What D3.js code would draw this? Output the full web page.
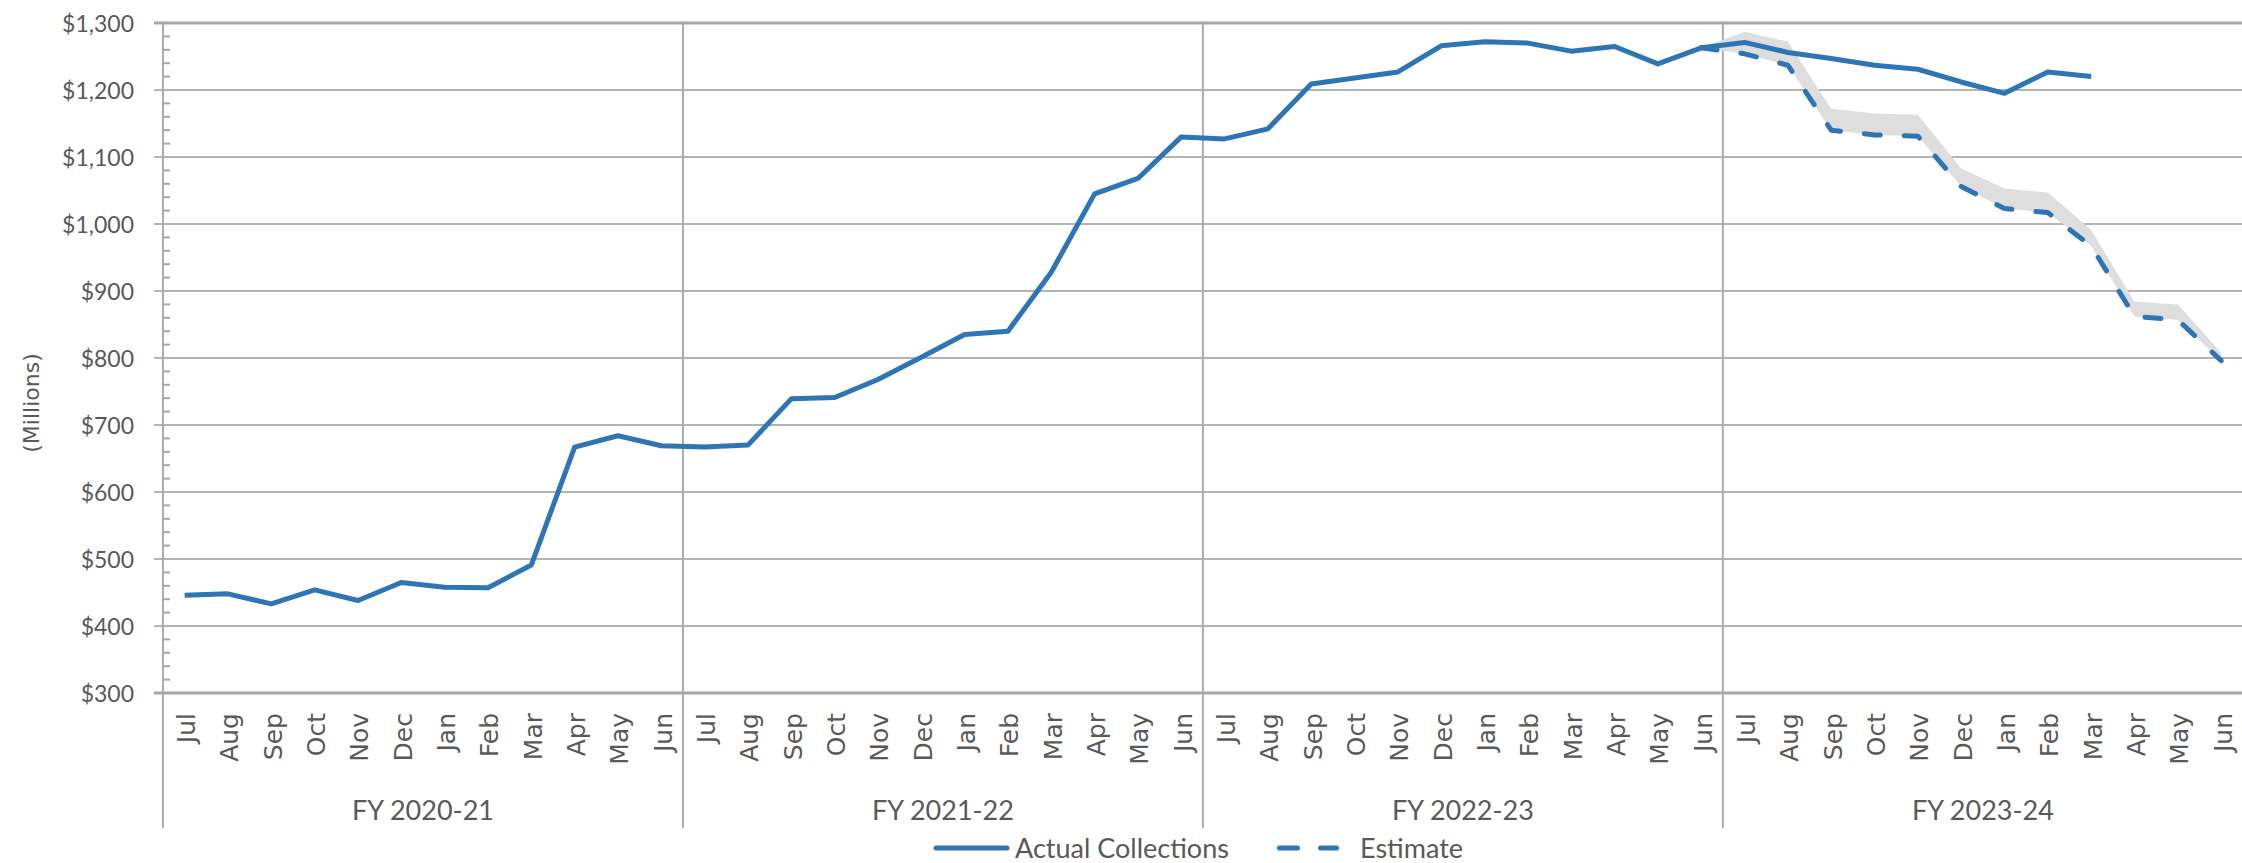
<!DOCTYPE html>
<html>
<head>
<meta charset="utf-8">
<script src="https://cdn.jsdelivr.net/npm/d3@7"></script>
<style>
  body { margin: 0; background: #fff; }
  svg { display: block; }
</style>
</head>
<body>
<div id="chart"></div>
<script>
document.addEventListener("DOMContentLoaded", function () {
  const width = 2242;
  const height = 863;
  const margin = { top: 23, left: 163, plotBottom: 693, axisBottom: 828 };
  const step = 43.33;

  const months = ["Jul", "Aug", "Sep", "Oct", "Nov", "Dec", "Jan", "Feb", "Mar", "Apr", "May", "Jun"];
  const fiscalYears = ["FY 2020-21", "FY 2021-22", "FY 2022-23", "FY 2023-24"];

  // monthly collections, $ millions (Jul 2020 .. Mar 2024)
  const actual = [
    446, 448, 433, 454, 438, 465, 458, 457, 491, 667, 684, 669,
    667, 670, 739, 741, 768, 801, 835, 840, 928, 1045, 1068, 1130,
    1127, 1142, 1209, 1218, 1227, 1266, 1272, 1270, 1258, 1265, 1239, 1263,
    1271, 1256, 1247, 1237, 1231, 1212, 1195, 1227, 1220
  ];
  // estimate and upper range start at Jun 2023
  const estimateStart = 35;
  const estimate = [1263, 1254, 1237, 1140, 1133, 1131, 1056, 1023, 1017, 967, 862, 857, 796];
  const estimateHigh = [1263, 1287, 1272, 1172, 1165, 1163, 1083, 1053, 1047, 991, 884, 880, 808];

  const yTicks = [300, 400, 500, 600, 700, 800, 900, 1000, 1100, 1200, 1300];

  const periods = [];
  fiscalYears.forEach(fy => months.forEach(m => periods.push(fy + "|" + m)));

  const x = d3.scaleBand()
    .domain(periods)
    .range([margin.left, margin.left + periods.length * step])
    .padding(0);

  const y = d3.scaleLinear()
    .domain([300, 1300])
    .range([margin.plotBottom, margin.top]);

  const cx = i => x(periods[i]) + x.bandwidth() / 2;

  const svg = d3.select("#chart")
    .append("svg")
    .attr("width", width)
    .attr("height", height);

  const textColor = "#595959";
  const blue = "#2e75b6";
  const narrowFont = "Lato, 'Liberation Sans', sans-serif";
  const wideFont = "'DejaVu Sans', Verdana, sans-serif";

  // horizontal gridlines
  svg.append("g")
    .selectAll("line")
    .data(yTicks)
    .join("line")
      .attr("x1", margin.left - 9)
      .attr("x2", width + 10)
      .attr("y1", d => y(d))
      .attr("y2", d => y(d))
      .attr("stroke", d => (d === 300 || d === 1300) ? "#a6a6a6" : "#b4b4b4")
      .attr("stroke-width", d => (d === 300 || d === 1300) ? 3 : 2);

  // fiscal year separators (also the y axis line)
  svg.append("g")
    .selectAll("line")
    .data(fiscalYears)
    .join("line")
      .attr("x1", d => x(d + "|Jul"))
      .attr("x2", d => x(d + "|Jul"))
      .attr("y1", margin.top)
      .attr("y2", margin.axisBottom)
      .attr("stroke", "#acacac")
      .attr("stroke-width", 2);

  // minor ticks
  const minor = d3.range(320, 1300, 20).filter(d => d % 100 !== 0);
  svg.append("g")
    .selectAll("line")
    .data(minor)
    .join("line")
      .attr("x1", margin.left)
      .attr("x2", margin.left + 7)
      .attr("y1", d => y(d))
      .attr("y2", d => y(d))
      .attr("stroke", "#a6a6a6")
      .attr("stroke-width", 2);

  // y axis labels
  const yAxis = g => g
    .attr("transform", `translate(${margin.left - 29},0)`)
    .call(d3.axisLeft(y).tickValues(yTicks).tickSize(0).tickPadding(0)
      .tickFormat(d => "$" + d3.format(",")(d)))
    .call(g => g.select(".domain").remove())
    .call(g => g.selectAll("text")
      .attr("fill", textColor)
      .attr("font-family", narrowFont)
      .attr("font-size", 23)
      .attr("dy", "0.36em"));
  svg.append("g").call(yAxis);

  svg.append("text")
    .attr("transform", `translate(39,403) rotate(-90)`)
    .attr("text-anchor", "middle")
    .attr("fill", textColor)
    .attr("font-family", wideFont)
    .attr("font-size", 22)
    .text("(Millions)");

  // month labels
  svg.append("g")
    .selectAll("text")
    .data(periods)
    .join("text")
      .attr("transform", d => `translate(${x(d) + x.bandwidth() / 2},713) rotate(-90)`)
      .attr("text-anchor", "end")
      .attr("dy", "0.42em")
      .attr("fill", textColor)
      .attr("font-family", wideFont)
      .attr("font-size", 25)
      .text(d => d.split("|")[1]);

  // fiscal year labels
  svg.append("g")
    .selectAll("text")
    .data(fiscalYears)
    .join("text")
      .attr("x", d => x(d + "|Jul") + 6 * step)
      .attr("y", 820)
      .attr("text-anchor", "middle")
      .attr("fill", textColor)
      .attr("font-family", narrowFont)
      .attr("font-size", 27)
      .text(d => d);

  // estimate range band
  const estIdx = estimate.map((d, k) => k + estimateStart);
  const band = d3.area()
    .x((d, k) => cx(estIdx[k]))
    .y0((d, k) => y(estimate[k]))
    .y1(d => y(d));
  svg.append("path")
    .datum(estimateHigh)
    .attr("d", band)
    .attr("fill", "#dedede");

  // estimate line
  const estLine = d3.line()
    .x((d, k) => cx(estIdx[k]))
    .y(d => y(d));
  svg.append("path")
    .datum(estimate)
    .attr("d", estLine)
    .attr("fill", "none")
    .attr("stroke", blue)
    .attr("stroke-width", 5)
    .attr("stroke-dasharray", "16,24")
    .attr("stroke-linecap", "round")
    .attr("stroke-linejoin", "round");

  // actual line
  const actLine = d3.line()
    .x((d, i) => cx(i))
    .y(d => y(d));
  svg.append("path")
    .datum(actual)
    .attr("d", actLine)
    .attr("fill", "none")
    .attr("stroke", blue)
    .attr("stroke-width", 5)
    .attr("stroke-linejoin", "round");

  // legend
  const legend = svg.append("g").attr("font-family", narrowFont).attr("font-size", 27).attr("fill", textColor);
  legend.append("line")
    .attr("x1", 936).attr("x2", 1007).attr("y1", 848).attr("y2", 848)
    .attr("stroke", blue).attr("stroke-width", 5).attr("stroke-linecap", "round");
  legend.append("text").attr("x", 1015).attr("y", 858).text("Actual Collections");
  legend.append("line")
    .attr("x1", 1279.5).attr("x2", 1336.5).attr("y1", 848).attr("y2", 848)
    .attr("stroke", blue).attr("stroke-width", 5).attr("stroke-linecap", "round")
    .attr("stroke-dasharray", "18,23");
  legend.append("text").attr("x", 1360).attr("y", 858).text("Estimate");
});
</script>
</body>
</html>
